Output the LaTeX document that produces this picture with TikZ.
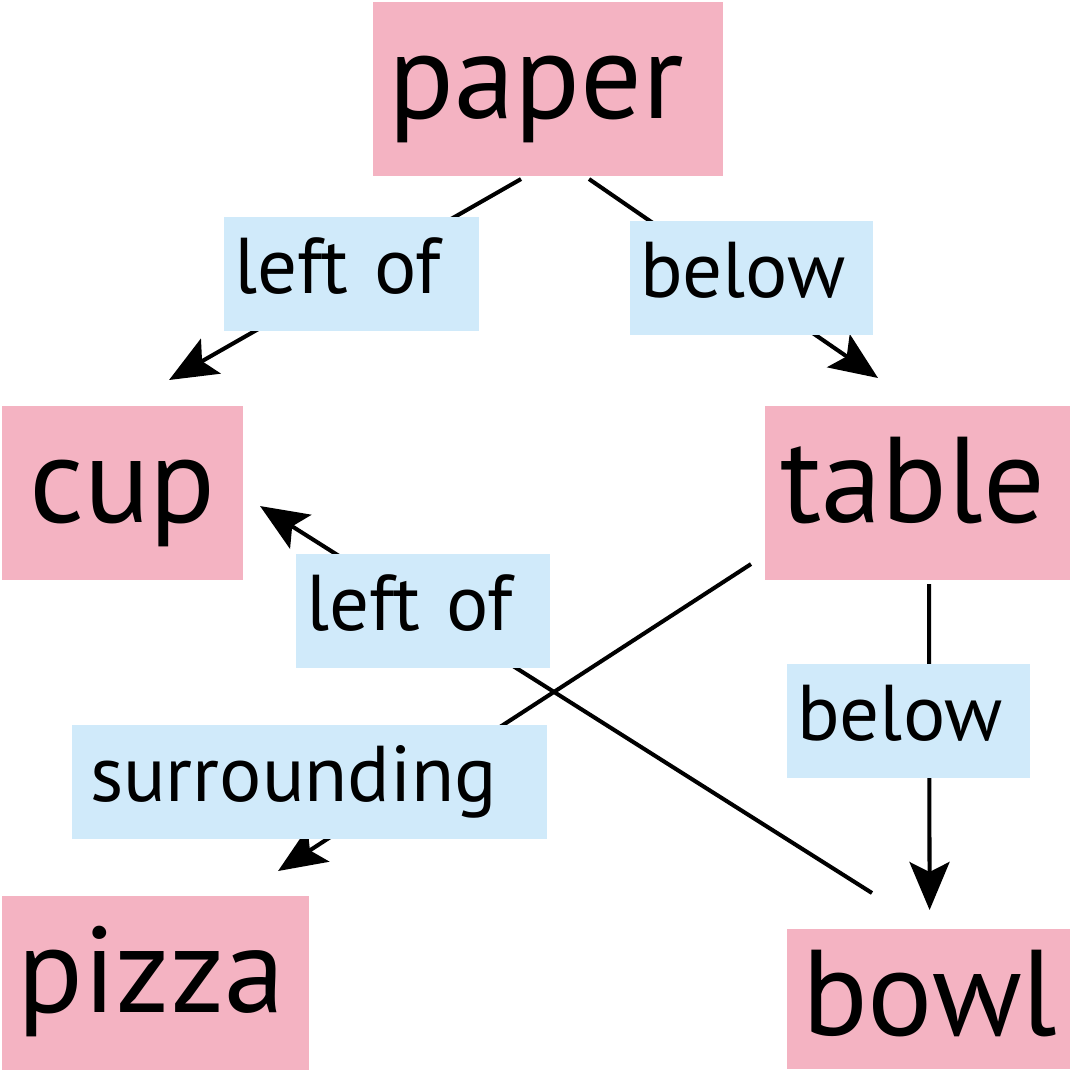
\documentclass[tikz,border=0pt]{standalone}
\usepackage{fontspec}
\setmainfont{PT Sans}
\usepackage{tikz}
\usetikzlibrary{arrows.meta}
\definecolor{objpink}{RGB}{244,179,194}
\definecolor{relblue}{RGB}{208,234,250}
\tikzstyle{obj} = [fill=objpink, anchor=north west, inner xsep=0.3cm, inner ysep=0pt,
    align=left, text height=2.32cm, text depth=1.16cm,
    font=\fontsize{69.4}{80}\selectfont]
\tikzstyle{rel} = [fill=relblue, anchor=north west, inner xsep=0.2cm, inner ysep=0pt,
    align=left, text height=1.52cm, text depth=0.76cm,
    font=\fontsize{45}{52}\selectfont]
\tikzset{>={Stealth[length=9.6mm,width=8mm,inset=2mm]}}

\begin{document}
\begin{tikzpicture}[line width=2.3pt]
    \useasboundingbox (0,0) rectangle (21.4,-21.38);
    \node[obj, text width=6.4cm] (paper) at (7.42,0) {paper};
    \node[obj, text width=4.22cm, align=center] (cup) at (0,-8.08) {cup};
    \node[obj, text width=5.54cm] (table) at (15.26,-8.08) {table};
    \node[obj, text width=5.54cm] (pizza) at (0,-17.88) {pizza};
    \node[obj, minimum width=5.66cm, text height=2.12cm, text depth=0.68cm] (bowl) at (15.7,-18.54) {bowl};
    \draw[->] ([shift={(-0.54,-0.02)}]paper.south) to ([shift={(-1.52,0.48)}]cup.north east);
    \draw[->] ([shift={(0.82,-0.02)}]paper.south) to ([shift={(2.30,0.52)}]table.north west);
    \draw[->] ([shift={(1.74,0.68)}]bowl.north west) to ([shift={(0.30,-0.26)}]cup.east);
    \draw[->] ([shift={(-0.24,0.36)}]table.south west) to ([shift={(-0.66,0.46)}]pizza.north east);
    \draw[->] ([shift={(0.21,-0.04)}]table.south) to ([shift={(0,0.34)}]bowl.north);
    \node[rel, text width=4.7cm] (leftA) at (4.44,-4.30) {left of};
    \node[rel, text width=4.46cm] (belowA) at (12.56,-4.38) {below};
    \node[rel, text width=4.68cm] (leftB) at (5.88,-11.04) {left of};
    \node[rel, text width=4.46cm] (belowB) at (15.70,-13.24) {below};
    \node[rel, text width=8.78cm, inner xsep=0.36cm] (surr) at (1.40,-14.46) {surrounding};
\end{tikzpicture}
\end{document}
